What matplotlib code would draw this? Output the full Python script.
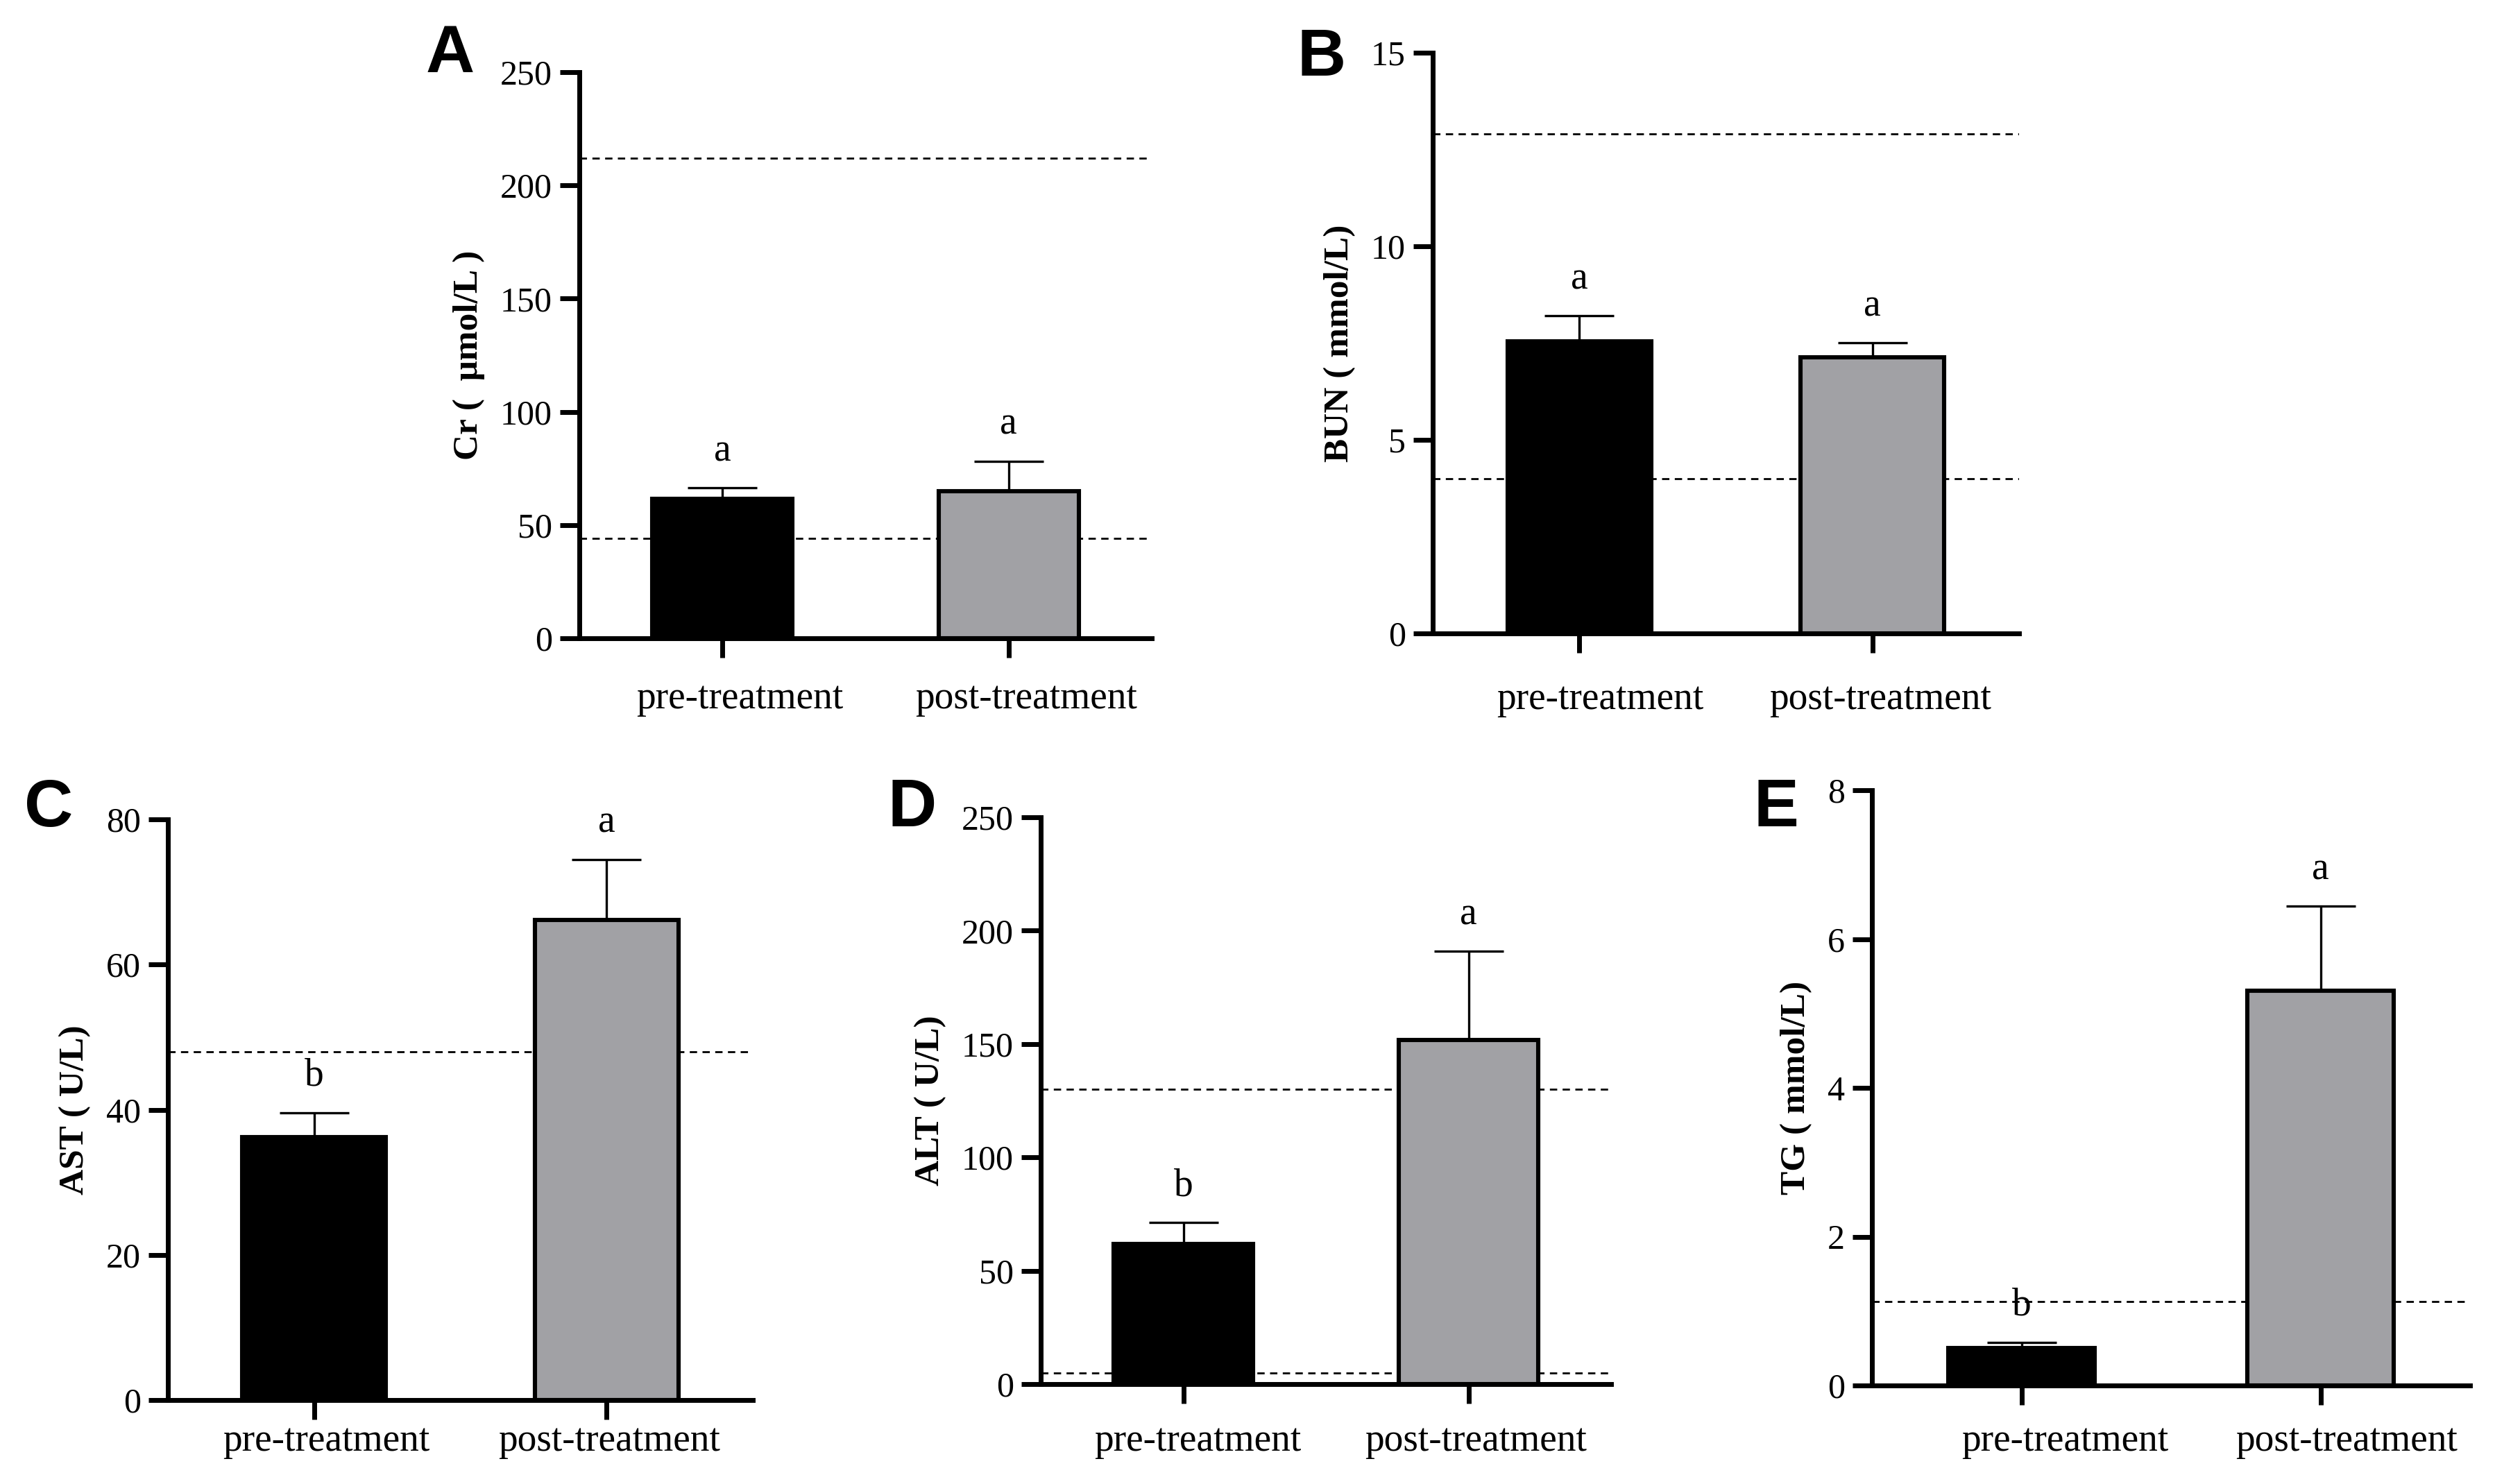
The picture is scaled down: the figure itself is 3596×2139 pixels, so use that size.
import matplotlib.pyplot as plt
from matplotlib.transforms import ScaledTranslation
import numpy as np

plt.rcParams['font.family'] = ['Liberation Serif', 'Noto Sans CJK SC']

W, H, DPI = 3596, 2139, 200

groups = ["pre-treatment", "post-treatment"]

# mean, upper error, reference lines (dashed)
cr_mean = [61.7, 64.8]
cr_err = [4.8, 13.4]
cr_ref = [44, 212]

bun_mean = [7.54, 7.13]
bun_err = [0.66, 0.38]
bun_ref = [4.0, 12.9]

ast_mean = [36.2, 66.1]
ast_err = [3.4, 8.4]
ast_ref = [48]

alt_mean = [61.8, 151.7]
alt_err = [9.5, 39.1]
alt_ref = [5, 130]

tg_mean = [0.50, 5.31]
tg_err = [0.08, 1.13]
tg_ref = [1.13]

letters_ab = {"A": ["a", "a"], "B": ["a", "a"], "C": ["b", "a"],
              "D": ["b", "a"], "E": ["b", "a"]}

# panel: (label, ylabel, mean, err, ref, yticks, box px (left, right, top, bottom), xpad, label shifts px)
panels = [
    ("A", "Cr (  μmol/L )", cr_mean, cr_err, cr_ref, [0, 50, 100, 150, 200, 250],
     (835, 1660, 104, 920), 12, [25, 25]),
    ("B", "BUN ( mmol/L)", bun_mean, bun_err, bun_ref, [0, 5, 10, 15],
     (2065, 2910, 76, 913), 15, [30, 11]),
    ("C", "AST ( U/L)", ast_mean, ast_err, ast_ref, [0, 20, 40, 60, 80],
     (242, 1085, 1181, 2018), 2, [18, 4]),
    ("D", "ALT ( U/L)", alt_mean, alt_err, alt_ref, [0, 50, 100, 150, 200, 250],
     (1500, 2322, 1178, 1995), 10, [21, 11]),
    ("E", "TG ( mmol/L)", tg_mean, tg_err, tg_ref, [0, 2, 4, 6, 8],
     (2698, 3560, 1139, 1997), 9.5, [63, 38]),
]

letter_pos = {"A": (649, 79), "B": (1905, 84), "C": (70, 1166),
              "D": (1315, 1166), "E": (2560, 1166)}

fig = plt.figure(figsize=(W / DPI, H / DPI), dpi=DPI)

for name, ylab, mean, err, ref, yt, box, xpad, shifts in panels:
    l, r, t, b = box
    ax = fig.add_axes([l / W, 1 - b / H, (r - l) / W, (b - t) / H])
    x = np.arange(len(groups))
    for v in ref:
        ax.axhline(v, color='black', lw=1.0, dashes=(3.8, 2.8), zorder=1)
    ax.bar(x, mean, width=0.49, color=['black', '#a1a1a5'],
           edgecolor='black', linewidth=2.2, zorder=2)
    ax.errorbar(x, mean, yerr=[np.zeros(len(mean)), err], fmt='none',
                ecolor='black', elinewidth=1.2, capsize=18, capthick=1.2,
                zorder=3)
    for xi, m, e, s in zip(x, mean, err, letters_ab[name]):
        ax.annotate(s, (xi, m + e), xytext=(0, 14), textcoords='offset points',
                    ha='center', va='baseline', fontsize=20, zorder=4)
    ax.set_xlim(-0.5, 1.5)
    ax.set_ylim(0, yt[-1])
    ax.set_yticks(yt)
    ax.set_xticks(x)
    ax.set_xticklabels(groups, fontsize=20)
    ax.tick_params(axis='y', labelsize=18, length=10, width=2.5, pad=4)
    ax.tick_params(axis='x', length=10, width=2.5, pad=xpad)
    # category labels sit a little right of their ticks
    for lab, dx in zip(ax.get_xticklabels(), shifts):
        off = ScaledTranslation(dx / DPI, 0, fig.dpi_scale_trans)
        lab.set_transform(lab.get_transform() + off)
    for side in ['top', 'right']:
        ax.spines[side].set_visible(False)
    for side in ['left', 'bottom']:
        ax.spines[side].set_linewidth(2.5)
    ax.set_ylabel(ylab, fontsize=18.5, fontweight='bold', labelpad=8)
    lx, ly = letter_pos[name]
    fig.text(lx / W, 1 - ly / H, name, fontsize=35, fontweight='bold',
             family=['Liberation Sans', 'DejaVu Sans'],
             ha='center', va='center')

fig.savefig("out.png", dpi=DPI)
